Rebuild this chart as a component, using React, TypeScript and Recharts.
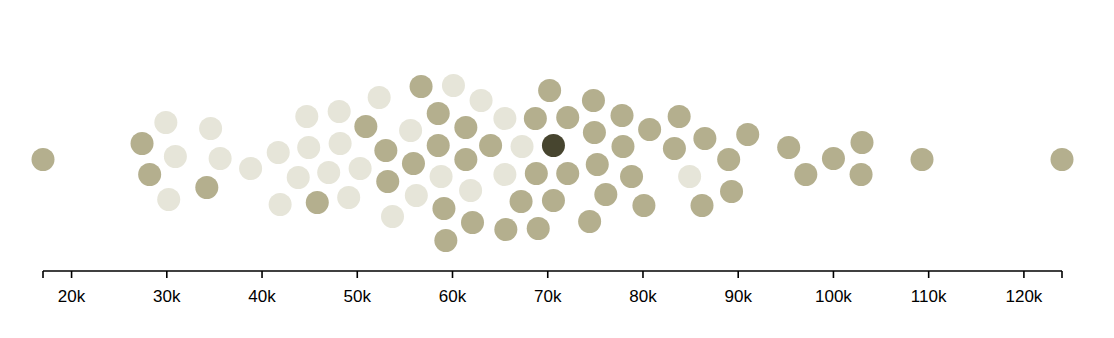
import React from 'react';
import { ScatterChart, Scatter, XAxis, YAxis } from 'recharts';

// salary in thousands
const salaries = [
  17.0, 27.4, 28.2, 29.9, 30.9, 30.2, 34.6, 35.6, 34.2, 38.8,
  41.7, 41.9, 44.7, 44.9, 43.8, 45.8, 48.1, 48.2, 47.0, 49.1,
  50.3, 50.9, 52.3, 53.0, 53.2, 53.7, 55.6, 55.9, 56.2, 56.7,
  58.5, 58.5, 58.8, 59.1, 59.3, 60.1, 61.4, 61.4, 61.9, 62.1,
  63.0, 64.0, 65.5, 65.5, 65.6, 67.2, 67.3, 68.7, 68.8, 69.0,
  70.2, 70.6, 70.6, 72.1, 72.1, 74.4, 74.8, 74.9, 75.2, 76.1,
  77.8, 77.9, 78.8, 80.1, 80.7, 83.8, 83.3, 84.9, 86.2, 86.5,
  89.0, 89.3, 91.0, 95.3, 97.1, 100.0, 103.0, 102.9, 109.3, 124.0,
];

// vertical spread of the swarm (px-like units, up is positive)
const offsets = [
  0, 16, -15, 37, 3, -40, 31, 1, -28, -9,
  7, -45, 43, 12, -18, -43, 48, 16, -13, -38,
  -9, 33, 62, 9, -22, -57, 29, -4, -36, 73,
  46, 14, -17, -49, -81, 74, 32, 0, -31, -63,
  59, 14, 41, -15, -70, -42, 13, 41, -14, -69,
  69, 14, -41, 42, -14, -62, 59, 27, -5, -35,
  44, 13, -17, -46, 30, 43, 11, -17, -46, 21,
  0, -32, 25, 12, -15, 1, 17, -15, 0, 0,
];

// L = faded, D = regular, H = highlighted
const groups = [
  'D', 'D', 'D', 'L', 'L', 'L', 'L', 'L', 'D', 'L',
  'L', 'L', 'L', 'L', 'L', 'D', 'L', 'L', 'L', 'L',
  'L', 'D', 'L', 'D', 'D', 'L', 'L', 'D', 'L', 'D',
  'D', 'D', 'L', 'D', 'D', 'L', 'D', 'D', 'L', 'D',
  'L', 'D', 'L', 'L', 'D', 'D', 'L', 'D', 'D', 'D',
  'D', 'H', 'D', 'D', 'D', 'D', 'D', 'D', 'D', 'D',
  'D', 'D', 'D', 'D', 'D', 'D', 'D', 'L', 'D', 'D',
  'D', 'D', 'D', 'D', 'D', 'D', 'D', 'D', 'D', 'D',
];

const xTicks = [17, 20, 30, 40, 50, 60, 70, 80, 90, 100, 110, 120, 124];

const colors: Record<string, string> = {
  L: '#e6e5d9',
  D: '#b4af8e',
  H: '#47452f',
};

const points = salaries.map((s, i) => ({ salary: s, offset: offsets[i], group: groups[i] }));

const Dot = (fill: string) => (props: any) => (
  <circle cx={props.cx} cy={props.cy} r={11.5} fill={fill} />
);

export default function App() {
  return (
    <div style={{ width: 1098, height: 322, fontFamily: 'Liberation Sans, Arial, sans-serif' }}>
      <ScatterChart width={1098} height={322} margin={{ top: 40, right: 44, left: 35, bottom: 9 }}>
        <XAxis
          type="number"
          dataKey="salary"
          domain={[17, 124]}
          ticks={xTicks}
          interval={0}
          tickFormatter={(v) => (v === 17 || v === 124 ? '' : `${v}k`)}
          tick={{ fontSize: 17, fill: '#000' }}
          tickSize={7}
          tickMargin={12}
          height={50}
          axisLine={{ stroke: '#000', strokeWidth: 1.6 }}
          tickLine={{ stroke: '#000', strokeWidth: 1.6 }}
        />
        <YAxis type="number" dataKey="offset" domain={[-111.5, 111.5]} hide width={0} />
        {['L', 'D', 'H'].map((g) => (
          <Scatter
            key={g}
            data={points.filter((p) => p.group === g)}
            shape={Dot(colors[g])}
            isAnimationActive={false}
          />
        ))}
      </ScatterChart>
    </div>
  );
}
